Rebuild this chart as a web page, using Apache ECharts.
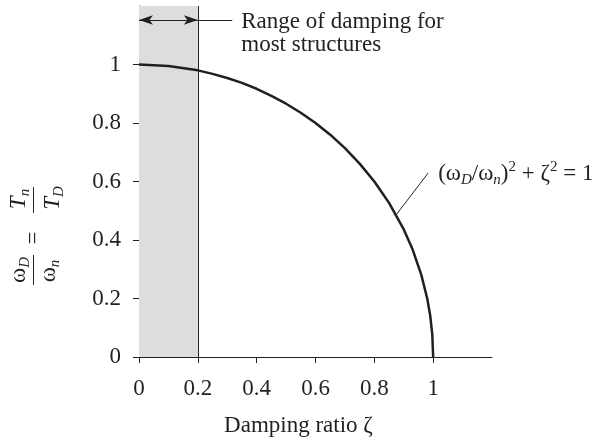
<!DOCTYPE html>
<html>
<head>
<meta charset="utf-8">
<script src="https://cdn.jsdelivr.net/npm/echarts@6/dist/echarts.min.js"></script>
<style>html,body{margin:0;padding:0;background:#fff}#c{width:608px;height:442px}</style>
</head>
<body>
<div id="c"></div>
<script>
// ---- data ----
const zeta  = [0, 0.1, 0.2, 0.25, 0.3, 0.35, 0.4, 0.45, 0.5, 0.55, 0.6, 0.65, 0.7, 0.75, 0.8, 0.85, 0.9, 0.93, 0.96, 0.98, 0.99, 0.997, 1];
const ratio = [1, 0.995, 0.98, 0.968, 0.954, 0.937, 0.917, 0.893, 0.866, 0.835, 0.8, 0.76, 0.714, 0.661, 0.6, 0.527, 0.436, 0.368, 0.28, 0.199, 0.141, 0.077, 0];
const xTicks = [0, 0.2, 0.4, 0.6, 0.8, 1];
const yTicks = [0, 0.2, 0.4, 0.6, 0.8, 1];
const dampingBand = [0, 0.2];
const arrowLevel = 1.152;
const bandLeaderEnd = 0.317;
const calloutFrom = [0.874, 0.486];
const calloutTo = [0.983, 0.629];
const bandText = 'Range of damping for\nmost structures';
const xName = 'Damping ratio ζ';

const FONT = '"Liberation Serif", "DejaVu Serif", serif';
const INK = '#231f20';

const chart = echarts.init(document.getElementById('c'), null, {renderer: 'canvas'});

const option = {
  animation: false,
  grid: {left: 139, right: 116, top: 6, bottom: 85},
  xAxis: {
    type: 'value', min: 0, max: 1.2, interval: 0.2,
    name: xName, nameLocation: 'middle', nameGap: 57,
    nameTextStyle: {fontFamily: FONT, fontSize: 23, color: INK, padding: [0, 34, 0, 0]},
    axisLine: {lineStyle: {color: INK, width: 1}},
    axisTick: {show: true, length: 6, lineStyle: {color: INK}, customValues: xTicks},
    axisLabel: {fontFamily: FONT, fontSize: 23, color: INK, margin: 20, customValues: xTicks,
      formatter: v => String(v)},
    splitLine: {show: false}
  },
  yAxis: {
    type: 'value', min: 0, max: 1.2, interval: 0.2,
    axisLine: {show: true, lineStyle: {color: INK, width: 1}},
    axisTick: {show: true, length: 6, lineStyle: {color: INK}, customValues: yTicks},
    axisLabel: {fontFamily: FONT, fontSize: 23, color: INK, margin: 18, customValues: yTicks,
      formatter: v => String(v)},
    splitLine: {show: false}
  },
  series: [{
    type: 'line',
    data: zeta.map((z, i) => [z, ratio[i]]),
    showSymbol: false,
    symbol: 'none',
    lineStyle: {color: INK, width: 2.5},
    z: 5,
    markArea: {
      silent: true,
      itemStyle: {color: '#dcdddf'},
      data: [[{xAxis: dampingBand[0]}, {xAxis: dampingBand[1]}]]
    },
    markLine: {
      silent: true,
      symbol: 'none',
      label: {show: false},
      lineStyle: {color: INK, width: 1, type: 'solid'},
      data: [
        {xAxis: dampingBand[1]},
        [{coord: [dampingBand[0], arrowLevel], symbol: 'arrow', symbolSize: [7, 14]},
         {coord: [dampingBand[1], arrowLevel], symbol: 'arrow', symbolSize: [7, 14]}],
        [{coord: [dampingBand[1], arrowLevel]}, {coord: [bandLeaderEnd, arrowLevel]}],
        [{coord: calloutFrom}, {coord: calloutTo}]
      ]
    }
  }]
};
chart.setOption(option);

// annotations anchored to data coordinates
const pBand = chart.convertToPixel({gridIndex: 0}, [bandLeaderEnd, arrowLevel]);
const pCall = chart.convertToPixel({gridIndex: 0}, calloutTo);
const sub = {fontFamily: FONT, fontSize: 15, fontStyle: 'italic', lineHeight: 15, verticalAlign: 'bottom', color: INK};
const sup = {fontFamily: FONT, fontSize: 15, lineHeight: 15, verticalAlign: 'top', color: INK};
const base = {fontFamily: FONT, fontSize: 23, lineHeight: 28, color: INK};
const baseIt = {fontFamily: FONT, fontSize: 23, fontStyle: 'italic', lineHeight: 28, color: INK};

function txt(x, y, t, align) {
  return {type: 'text', x: x, y: y, silent: true,
    style: {text: t, align: align || 'center', verticalAlign: 'middle',
      fontFamily: FONT, fontSize: 23, fill: INK,
      rich: {b: base, i: baseIt, s: sub, p: sup}}};
}
function bar(x1, x2) {
  return {type: 'line', silent: true, shape: {x1: x1, y1: 0, x2: x2, y2: 0}, style: {stroke: INK, lineWidth: 1}};
}

chart.setOption({
  graphic: [
    {type: 'text', x: pBand[0] + 9, y: pBand[1] + 13, silent: true,
      style: {text: bandText, align: 'left', verticalAlign: 'middle', fontFamily: FONT, fontSize: 23, lineHeight: 23, fill: INK}},
    txt(pCall[0] + 10, pCall[1] + 1, '{b|(ω}{s|D}{b|/ω}{s|n}{b|)}{p|2}{b| + ζ}{p|2}{b| = 1}', 'left'),
    {type: 'group', x: 33.5, y: 236, rotation: Math.PI / 2, children: [
      bar(-49, -19),
      txt(-34, -15, '{b|ω}{s|D}'),
      txt(-35, 15, '{b|ω}{s|n}'),
      txt(-2, 0, '{b|=}'),
      bar(23, 49),
      txt(37, -15, '{i|T}{s|n}'),
      txt(38, 19, '{i|T}{s|D}')
    ]}
  ]
});
</script>
</body>
</html>
